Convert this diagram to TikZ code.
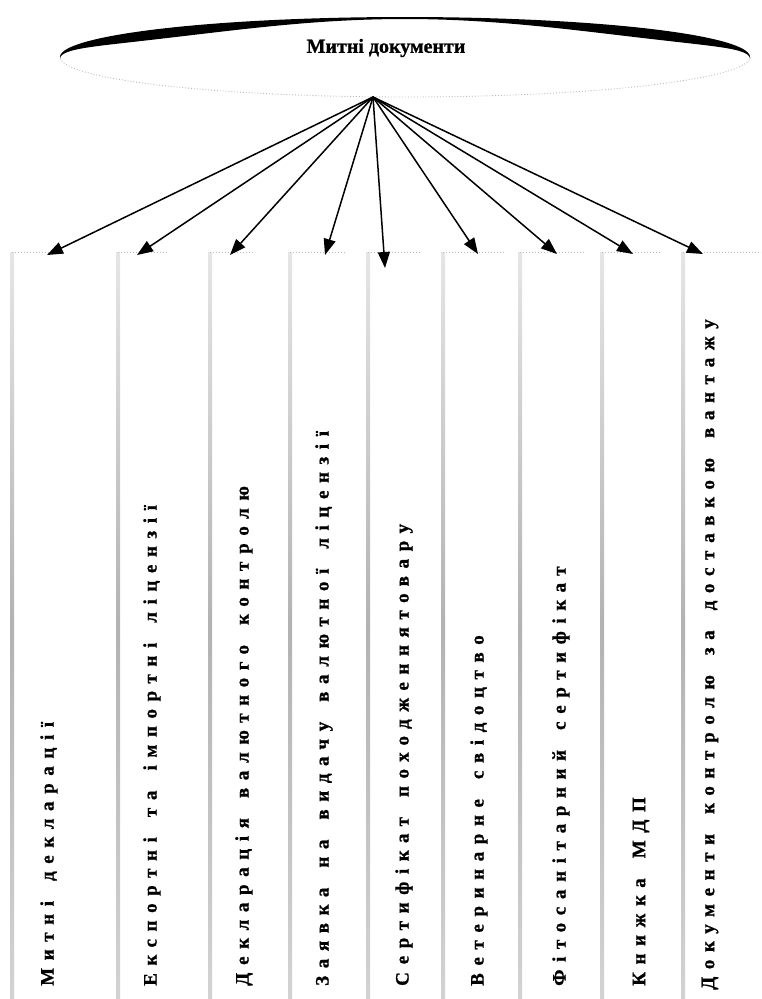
\documentclass[tikz,border=0pt]{standalone}
\usepackage{fontspec}
\setmainfont{Liberation Serif}
\newfontfamily\spacedfont[LetterSpace=40,FakeBold=1]{Liberation Serif Bold}
\newfontfamily\titlefam[FakeBold=1]{Liberation Serif Bold}
\newcommand\mydocfont{\spacedfont\fontsize{19}{19}\selectfont}
\newcommand\wgap{\hspace{20pt}}
\usetikzlibrary{arrows.meta}
\begin{document}
\begin{tikzpicture}[x=1pt,y=-1pt,
  doc/.style={rotate=90,anchor=west,inner sep=0pt,font=\mydocfont},
  band/.style={top color=gray!20,bottom color=gray!35,middle color=gray!60,draw=none},
  topedge/.style={draw=gray!55,dotted,line width=1pt},
  link/.style={line width=1.5pt,-{Triangle[length=16pt,width=12pt]}},
  titlefont/.style={font=\titlefam\fontsize{20}{20}\selectfont}]
\useasboundingbox (0,0) rectangle (761,999);
% ellipse
\fill[black] plot[domain=180:360,samples=90] ({405+345*cos(\x)},{57+40*sin(\x)})
  -- plot[domain=360:180,samples=90] ({405+345*cos(\x)},{57+40*sin(\x)+2+8*pow(sin(2*\x),2)}) -- cycle;
\draw[gray!55,dotted,line width=0.9pt] plot[domain=0:180,samples=90] ({405+345*cos(\x)},{57+40*sin(\x)});
\node[titlefont] (title) at (386,48) {Митні документи};
\coordinate (hub) at (373,97);
% column bands
\foreach \bx/\ex in {12/62,118/168,210/255,290/345,368/420,443/505,520/585,602/660,683/761}{
  \shade[band] (\bx-2,252) rectangle (\bx+2,999);
  \draw[topedge] (\bx,252) -- (\ex,252);
}
% targets
\coordinate (t1) at (47,255);
\coordinate (t2) at (137,255);
\coordinate (t3) at (230,255);
\coordinate (t4) at (325,255);
\coordinate (t5) at (385,268);
\coordinate (t6) at (478,254);
\coordinate (t7) at (557,254);
\coordinate (t8) at (633,254);
\coordinate (t9) at (703,254);
\foreach \i in {1,...,9}{\draw[link] (hub) -- (t\i);}
% documents
\node[doc] (d1) at (49,986) {Митні\wgap декларації};
\node[doc] (d2) at (152,986) {Експортні\wgap та\wgap імпортні\wgap ліцензії};
\node[doc] (d3) at (244,986) {Декларація\wgap валютного\wgap контролю};
\node[doc] (d4) at (324,986) {Заявка\wgap на\wgap видачу\wgap валютної\wgap ліцензії};
\node[doc] (d5) at (404,986) {Сертифікат\wgap походженнятовару};
\node[doc] (d6) at (479,986) {Ветеринарне\wgap свідоцтво};
\node[doc] (d7) at (561,986) {Фітосанітарний\wgap сертифікат};
\node[doc] (d8) at (641,986) {Книжка\wgap МДП};
\node[doc] (d9) at (710,990) {Документи\wgap контролю\wgap за\wgap доставкою\wgap вантажу};
\end{tikzpicture}
\end{document}
